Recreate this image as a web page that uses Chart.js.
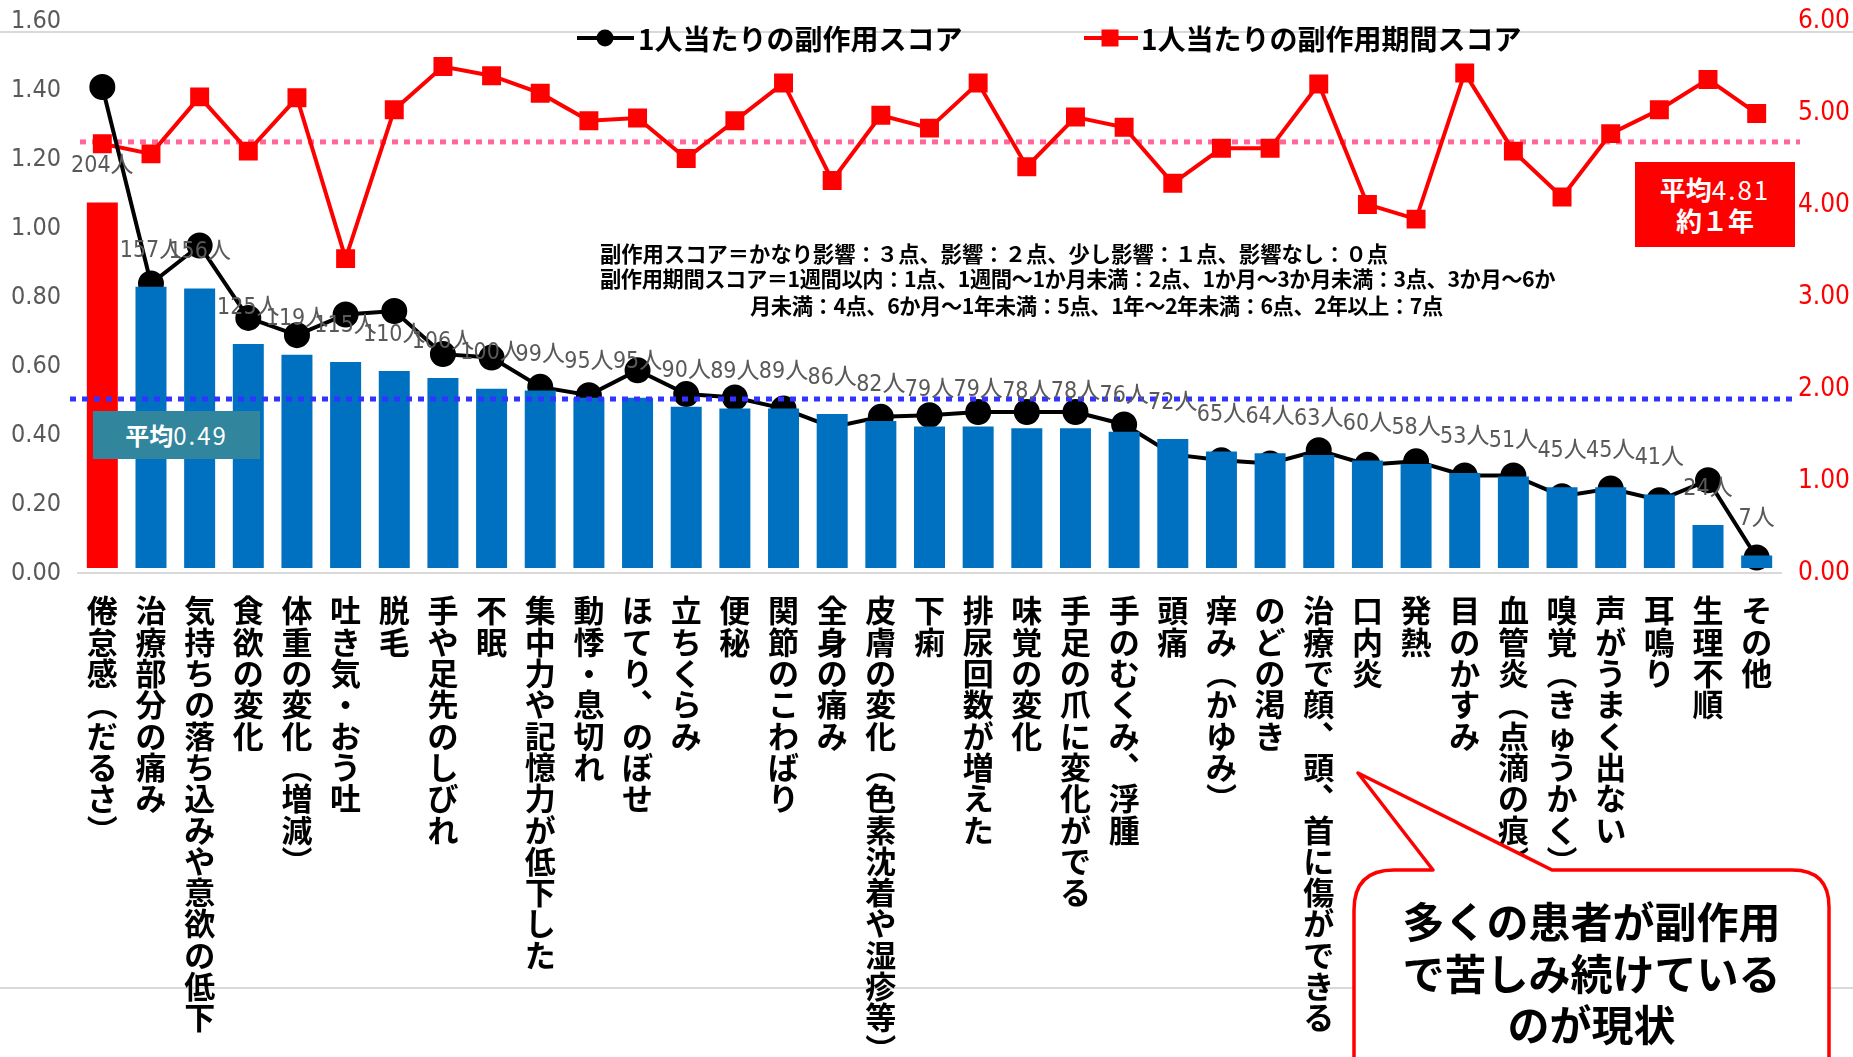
<!DOCTYPE html>
<html lang="ja">
<head>
<meta charset="utf-8">
<title>副作用スコアと副作用期間スコア</title>
<script src="https://cdn.jsdelivr.net/npm/chart.js@4.4.1/dist/chart.umd.min.js"></script>
<style>
    html, body { margin: 0; padding: 0; background: #fff; }
    body {
        width: 1853px; height: 1057px; position: relative; overflow: hidden;
        font-family: "Noto Sans CJK JP", sans-serif;
    }
    .rule { position: absolute; left: 0; width: 1853px; height: 2px; background: #d9d9d9; z-index: 0; }
    #chartBox { position: absolute; left: 0; top: 0; width: 1853px; height: 1057px; z-index: 1; }
    .overlay { position: absolute; z-index: 2; white-space: nowrap; }
    .legend-text { font-size: 28px; font-weight: bold; line-height: 36px; color: #000; }
    .note { font-size: 21.3px; font-weight: bold; line-height: 26px; color: #000; }
    .note.tight { letter-spacing: -0.45px; }
    .avg-box { color: #fff; text-align: center; }
    .avg-box b { font-weight: bold; }
    .avg-box span { letter-spacing: 2px; }
    .callout-text {
        left: 1354px; width: 475px; top: 894px; text-align: center;
        font-size: 42px; font-weight: bold; line-height: 51.5px; color: #000;
    }
</style>
</head>
<body>
<div class="rule" style="top:31px"></div>
<div class="rule" style="top:987px"></div>

<div id="chartBox"><canvas id="sideEffectChart" width="1853" height="1057"></canvas></div>

<!-- legend -->
<svg class="overlay" style="left:0;top:0" width="1853" height="80">
    <line x1="577" y1="38" x2="634" y2="38" stroke="#000" stroke-width="4"/>
    <circle cx="605" cy="38" r="8.5" fill="#000"/>
    <line x1="1084" y1="38" x2="1138" y2="38" stroke="#ff0000" stroke-width="4"/>
    <rect x="1101.5" y="29.5" width="17" height="17" fill="#ff0000"/>
</svg>
<div class="overlay legend-text" style="left:638px;top:20px">1人当たりの副作用スコア</div>
<div class="overlay legend-text" style="left:1141px;top:20px">1人当たりの副作用期間スコア</div>

<!-- scoring notes -->
<div class="overlay note" style="left:600px;top:240px">副作用スコア＝かなり影響：３点、影響：２点、少し影響：１点、影響なし：０点</div>
<div class="overlay note tight" style="left:600px;top:265px">副作用期間スコア＝1週間以内：1点、1週間～1か月未満：2点、1か月～3か月未満：3点、3か月～6か</div>
<div class="overlay note tight" style="left:750px;top:292px">月未満：4点、6か月～1年未満：5点、1年～2年未満：6点、2年以上：7点</div>

<!-- average boxes -->
<div class="overlay avg-box" style="left:93px;top:411px;width:167px;height:48px;background:#31859c;font-size:24px;line-height:48px"><b>平均</b><span>0.49</span></div>
<div class="overlay avg-box" style="left:1635px;top:162px;width:160px;height:85px;background:#ff0000;font-size:26px;line-height:31px;padding-top:11px;box-sizing:border-box"><b>平均</b><span>4.81</span><br><b>約１年</b></div>

<!-- callout -->
<svg class="overlay" style="left:0;top:0" width="1853" height="1057">
    <path d="M1354,1120 L1354,910 Q1354,870 1394,870 L1433,870 L1358,773 L1552,870 L1792,870 Q1829,870 1829,907 L1829,1120"
          fill="#fff" stroke="#ff0000" stroke-width="3.5" stroke-linejoin="round"/>
</svg>
<div class="overlay callout-text">多くの患者が副作用<br>で苦しみ続けている<br>のが現状</div>

<script>
// Side effects (x axis)
const categories = [
    '倦怠感（だるさ）', '治療部分の痛み', '気持ちの落ち込みや意欲の低下', '食欲の変化',
    '体重の変化（増減）', '吐き気・おう吐', '脱毛', '手や足先のしびれ', '不眠',
    '集中力や記憶力が低下した', '動悸・息切れ', 'ほてり、のぼせ', '立ちくらみ', '便秘',
    '関節のこわばり', '全身の痛み', '皮膚の変化（色素沈着や湿疹等）', '下痢',
    '排尿回数が増えた', '味覚の変化', '手足の爪に変化がでる', '手のむくみ、浮腫', '頭痛',
    '痒み（かゆみ）', 'のどの渇き', '治療で顔、頭、首に傷ができる', '口内炎', '発熱',
    '目のかすみ', '血管炎（点滴の痕）', '嗅覚（きゅうかく）', '声がうまく出ない',
    '耳鳴り', '生理不順', 'その他'
];

// Number of patients (bars)
const patientCounts = [
    204, 157, 156, 125, 119, 115, 110, 106, 100, 99, 95, 95, 90, 89, 89, 86, 82, 79,
    79, 78, 78, 76, 72, 65, 64, 63, 60, 58, 53, 51, 45, 45, 41, 24, 7
];

// 1人当たりの副作用スコア (left axis)
const sideEffectScore = [
    1.41, 0.84, 0.95, 0.74, 0.69, 0.75, 0.76, 0.635, 0.625, 0.54, 0.516, 0.588,
    0.519, 0.509, 0.477, 0.423, 0.453, 0.458, 0.467, 0.467, 0.467, 0.431, 0.344,
    0.327, 0.318, 0.356, 0.314, 0.324, 0.283, 0.283, 0.223, 0.245, 0.211, 0.269, 0.045
];

// 1人当たりの副作用期間スコア (right axis)
const durationScore = [
    4.67, 4.56, 5.18, 4.59, 5.17, 3.42, 5.04, 5.51, 5.41, 5.22, 4.92, 4.95, 4.51,
    4.92, 5.33, 4.27, 4.98, 4.84, 5.33, 4.42, 4.96, 4.85, 4.24, 4.62, 4.62, 5.32,
    4.01, 3.85, 5.44, 4.59, 4.09, 4.78, 5.04, 5.37, 5.00
];

// Axis ranges
const scoreAxis = { min: 0, max: 1.6, step: 0.2 };
const durationAxis = { min: 0, max: 6, step: 1 };

// Dotted average lines, where they sit in the picture
const avgScoreLine = 0.505;
const avgDurationLine = 4.69;

const NUM_FONT = '"Liberation Sans Narrow", "Arial Narrow", "DejaVu Sans Condensed", "Noto Sans CJK JP", sans-serif';

// vertical writing: turn brackets and commas into their vertical forms
const verticalForms = { '（': '︵', '）': '︶', '、': '︑' };
function toVertical(label) {
    return Array.from(label).map(ch => verticalForms[ch] || ch);
}

function dottedLine(ctx, x1, x2, y, color) {
    ctx.save();
    ctx.strokeStyle = color;
    ctx.lineWidth = 5;
    ctx.setLineDash([6, 6]);
    ctx.beginPath();
    ctx.moveTo(x1, y);
    ctx.lineTo(x2, y);
    ctx.stroke();
    ctx.restore();
}

const annotations = {
    id: 'annotations',
    beforeDatasetsDraw(chart) {
        const area = chart.chartArea;
        const y = chart.scales.y2.getPixelForValue(avgDurationLine);
        dottedLine(chart.ctx, area.left + 2, area.right + 19, y, '#ff6699');
    },
    afterDatasetsDraw(chart) {
        const ctx = chart.ctx;
        const area = chart.chartArea;
        const y = chart.scales.y.getPixelForValue(avgScoreLine);
        dottedLine(ctx, area.left - 8, area.right + 11, y, '#3333ff');

        // patient counts above the bars
        const bars = chart.getDatasetMeta(0).data;
        ctx.save();
        ctx.font = '23px ' + NUM_FONT;
        ctx.fillStyle = '#595959';
        ctx.textAlign = 'center';
        ctx.textBaseline = 'middle';
        bars.forEach((bar, i) => {
            ctx.fillText(patientCounts[i] + '人', bar.x, bar.y - 36);
        });
        ctx.restore();
    }
};

const ctx = document.getElementById('sideEffectChart');

new Chart(ctx, {
    type: 'bar',
    data: {
        labels: categories,
        datasets: [
            {
                type: 'bar',
                label: '人数',
                data: patientCounts,
                yAxisID: 'y3',
                backgroundColor: categories.map((c, i) => i === 0 ? '#ff0000' : '#0070c0'),
                barPercentage: 0.637,
                categoryPercentage: 1,
                order: 0
            },
            {
                type: 'line',
                label: '1人当たりの副作用スコア',
                data: sideEffectScore,
                yAxisID: 'y',
                borderColor: '#000',
                borderWidth: 4,
                pointStyle: 'circle',
                pointRadius: 11,
                pointBackgroundColor: '#000',
                pointBorderColor: '#000',
                tension: 0,
                order: 1
            },
            {
                type: 'line',
                label: '1人当たりの副作用期間スコア',
                data: durationScore,
                yAxisID: 'y2',
                borderColor: '#ff0000',
                borderWidth: 4,
                pointStyle: 'rect',
                pointRadius: 13.4,
                pointBackgroundColor: '#ff0000',
                pointBorderColor: '#ff0000',
                pointBorderWidth: 0,
                tension: 0,
                order: 2
            }
        ]
    },
    options: {
        responsive: false,
        animation: false,
        layout: {
            padding: { top: 21.5, left: 11, right: 3, bottom: 0 }
        },
        plugins: {
            legend: { display: false },
            tooltip: { enabled: false }
        },
        scales: {
            x: {
                grid: { display: false, drawTicks: false },
                border: { display: true, color: '#d9d9d9', width: 2 },
                ticks: {
                    autoSkip: false,
                    maxRotation: 0,
                    minRotation: 0,
                    padding: 22,
                    color: '#000',
                    font: { family: '"Noto Sans CJK JP", sans-serif', size: 31, weight: 'bold', lineHeight: '31.3px' },
                    callback: function(value, index) {
                        return toVertical(categories[index]);
                    }
                },
                afterFit: function(scale) {
                    scale.height = 484;
                }
            },
            y: {
                position: 'left',
                min: scoreAxis.min,
                max: scoreAxis.max,
                grid: { display: false, drawTicks: false },
                border: { display: false },
                ticks: {
                    stepSize: scoreAxis.step,
                    padding: 0,
                    crossAlign: 'far',
                    color: '#595959',
                    font: { family: NUM_FONT, size: 25 },
                    callback: function(value) {
                        return value.toFixed(2);
                    }
                },
                afterFit: function(scale) {
                    scale.width = 67;
                }
            },
            y2: {
                position: 'right',
                min: durationAxis.min,
                max: durationAxis.max,
                grid: { display: false, drawTicks: false },
                border: { display: false },
                ticks: {
                    stepSize: durationAxis.step,
                    padding: 0,
                    crossAlign: 'far',
                    color: '#ff0000',
                    font: { family: NUM_FONT, size: 26 },
                    callback: function(value) {
                        return value.toFixed(2);
                    }
                },
                afterFit: function(scale) {
                    scale.width = 69;
                }
            },
            // hidden axis for the patient counts
            y3: {
                display: false,
                min: -2.8,
                max: 305
            }
        }
    },
    plugins: [annotations]
});
</script>
</body>
</html>
